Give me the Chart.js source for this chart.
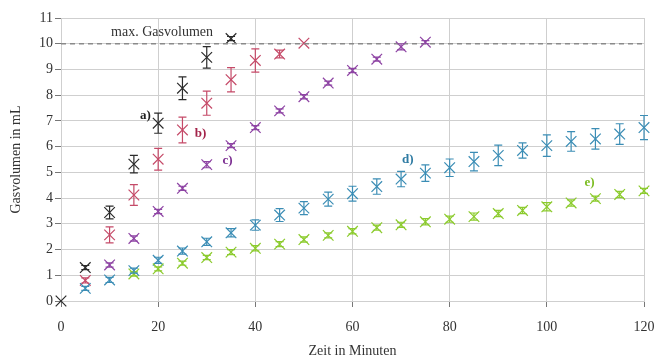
<!DOCTYPE html>
<html>
<head>
<meta charset="utf-8">
<script src="https://cdn.jsdelivr.net/npm/chart.js@4"></script>
<style>
  html, body { margin: 0; padding: 0; background: #fff; overflow: hidden; }
  #box { width: 656px; height: 372px; }
</style>
</head>
<body>
<div id="box"><canvas id="grafico"></canvas></div>
<script>
// Daten: Zeit (min) und Gasvolumen (mL) je Versuch
let zeitA = [0, 5, 10, 15, 20, 25, 30, 35];
let volA  = [0, 1.3, 3.44, 5.32, 6.91, 8.27, 9.47, 10.2];
let errA  = [0, 0.08, 0.25, 0.34, 0.39, 0.44, 0.42, 0.08];

let zeitB = [5, 10, 15, 20, 25, 30, 35, 40, 45, 50];
let volB  = [0.8, 2.57, 4.12, 5.51, 6.65, 7.69, 8.6, 9.35, 9.6, 10.02];
let errB  = [0.1, 0.31, 0.4, 0.42, 0.5, 0.47, 0.47, 0.45, 0.15, 0];

let zeitC = [10, 15, 20, 25, 30, 35, 40, 45, 50, 55, 60, 65, 70, 75];
let volC  = [1.4, 2.43, 3.48, 4.38, 5.3, 6.04, 6.74, 7.39, 7.94, 8.47, 8.96, 9.4, 9.88, 10.06];
let errC  = [0.08, 0.1, 0.08, 0.08, 0.12, 0.08, 0.08, 0.08, 0.08, 0.08, 0.08, 0.08, 0.12, 0.06];

let zeitD = [5, 10, 15, 20, 25, 30, 35, 40, 45, 50, 55, 60, 65, 70, 75, 80, 85, 90, 95, 100, 105, 110, 115, 120];
let volD  = [0.49, 0.82, 1.18, 1.58, 1.94, 2.3, 2.65, 2.95, 3.34, 3.61, 3.96, 4.17, 4.45, 4.74, 4.97, 5.18, 5.42, 5.66, 5.85, 6.04, 6.2, 6.3, 6.49, 6.74];
let errD  = [0.08, 0.1, 0.1, 0.12, 0.12, 0.14, 0.16, 0.2, 0.25, 0.25, 0.27, 0.29, 0.3, 0.3, 0.32, 0.34, 0.36, 0.4, 0.3, 0.42, 0.38, 0.4, 0.4, 0.47];

let zeitE = [15, 20, 25, 30, 35, 40, 45, 50, 55, 60, 65, 70, 75, 80, 85, 90, 95, 100, 105, 110, 115, 120];
let volE  = [1.05, 1.25, 1.47, 1.69, 1.9, 2.05, 2.21, 2.39, 2.55, 2.71, 2.85, 2.96, 3.08, 3.18, 3.28, 3.4, 3.52, 3.66, 3.81, 3.98, 4.14, 4.28];
let errE  = [0.08, 0.08, 0.08, 0.08, 0.1, 0.1, 0.1, 0.1, 0.1, 0.1, 0.1, 0.1, 0.12, 0.12, 0.14, 0.12, 0.12, 0.16, 0.12, 0.1, 0.12, 0.1];

let maxVolumen = 10;
let xTicks = [0, 20, 40, 60, 80, 100, 120];

// Beschriftungen [Text, x, y]
let beschriftungen = [
  ["a)", 17.4, 7.2],
  ["b)", 28.7, 6.5],
  ["c)", 34.3, 5.45],
  ["d)", 71.4, 5.5],
  ["e)", 108.8, 4.6]
];

let farben = ["#2b2b2b", "#c54a68", "#8e44a4", "#3b8db5", "#8ccb2e"];
let textFarben = ["#1e1e1e", "#a3234a", "#7c2f92", "#2e7ba3", "#7cbd22"];

let schrift = "'Liberation Serif', 'DejaVu Serif', serif";

function punkte(xs, ys) {
  return xs.map((x, i) => ({ x: x, y: ys[i] }));
}

function serie(xs, ys, errs, farbe) {
  return {
    data: punkte(xs, ys),
    errs: errs,
    showLine: false,
    clip: false,
    pointStyle: "crossRot",
    pointRadius: 7.5,
    pointBorderWidth: 1.2,
    borderColor: farbe,
    backgroundColor: farbe
  };
}

// Fehlerbalken und Texte
let fehlerPlugin = {
  id: "fehler",
  afterDatasetsDraw(chart) {
    let ctx = chart.ctx;
    let xs = chart.scales.x, ys = chart.scales.y;
    chart.data.datasets.forEach(ds => {
      if (!ds.errs) return;
      ctx.save();
      ctx.strokeStyle = ds.borderColor;
      ctx.lineWidth = 1.2;
      ds.data.forEach((p, i) => {
        let e = ds.errs[i];
        if (!e) return;
        let px = xs.getPixelForValue(p.x);
        let y1 = ys.getPixelForValue(p.y + e);
        let y2 = ys.getPixelForValue(p.y - e);
        ctx.beginPath();
        ctx.moveTo(px, y1); ctx.lineTo(px, y2);
        ctx.moveTo(px - 4, y1); ctx.lineTo(px + 4, y1);
        ctx.moveTo(px - 4, y2); ctx.lineTo(px + 4, y2);
        ctx.stroke();
      });
      ctx.restore();
    });
  },
  afterDraw(chart) {
    let ctx = chart.ctx;
    let xs = chart.scales.x, ys = chart.scales.y;
    ctx.save();
    ctx.textAlign = "center";
    ctx.textBaseline = "middle";
    beschriftungen.forEach((b, i) => {
      ctx.fillStyle = textFarben[i];
      ctx.font = "bold 13px " + schrift;
      ctx.fillText(b[0], xs.getPixelForValue(b[1]), ys.getPixelForValue(b[2]));
    });
    ctx.fillStyle = "#333";
    ctx.font = "14px " + schrift;
    ctx.fillText("max. Gasvolumen", xs.getPixelForValue(20.8), ys.getPixelForValue(10.43));
    ctx.restore();
  }
};

let gitter = "#cfcfcf";

new Chart(document.getElementById("grafico"), {
  type: "scatter",
  data: {
    datasets: [
      {
        data: [{ x: 0, y: maxVolumen }, { x: 120, y: maxVolumen }],
        showLine: true,
        borderColor: "#8a8a8a",
        borderWidth: 1.3,
        borderDash: [5, 4],
        pointRadius: 0
      },
      serie(zeitE, volE, errE, farben[4]),
      serie(zeitD, volD, errD, farben[3]),
      serie(zeitC, volC, errC, farben[2]),
      serie(zeitB, volB, errB, farben[1]),
      serie(zeitA, volA, errA, farben[0])
    ]
  },
  options: {
    responsive: true,
    maintainAspectRatio: false,
    animation: false,
    layout: { padding: { top: 18, right: 12, left: 0, bottom: 0 } },
    plugins: { legend: { display: false }, tooltip: { enabled: false } },
    scales: {
      x: {
        type: "linear",
        min: 0, max: 120,
        afterFit: s => { s.height = 71; s.paddingLeft = 0; s.paddingRight = 0; },
        afterBuildTicks: s => { s.ticks = xTicks.map(v => ({ value: v })); },
        grid: { color: gitter, tickColor: "#777", tickLength: 6 },
        border: { color: gitter },
        ticks: { color: "#333", font: { family: schrift, size: 14 }, padding: 12 },
        title: { display: true, text: "Zeit in Minuten", color: "#333",
                 font: { family: schrift, size: 14 }, padding: { top: 0, bottom: 12 } }
      },
      y: {
        min: 0, max: 11,
        afterFit: s => { s.width = 61; s.paddingTop = 0; s.paddingBottom = 0; },
        grid: { color: gitter, tickColor: "#777", tickLength: 6 },
        border: { color: gitter },
        ticks: { stepSize: 1, color: "#333", font: { family: schrift, size: 14 }, padding: 2 },
        title: { display: true, text: "Gasvolumen in mL", color: "#333",
                 font: { family: schrift, size: 14 }, padding: { top: 8, bottom: 0 } }
      }
    }
  },
  plugins: [fehlerPlugin]
});
</script>
</body>
</html>
